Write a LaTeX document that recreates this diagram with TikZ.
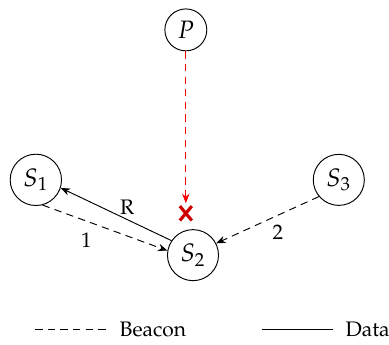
\documentclass[tikz,border=0pt]{standalone}
\usepackage[T1]{fontenc}
\usepackage{mathpazo}
\usetikzlibrary{arrows.meta}

\tikzset{
  station/.style={draw, circle, inner sep=3pt, font=\large},
  beacon/.style={->, dash pattern=on 3.5pt off 2.5pt},
  datalink/.style={->},
}

\begin{document}
\begin{tikzpicture}[>={Stealth[length=4.5pt,width=3.5pt]}, line width=.45pt]
    \useasboundingbox (0,0) rectangle (6.51,5.76);
    \node[station] (P)  at (3.11,5.26) {$P$};
    \node[station] (S1) at (0.60,2.75) {$S_1$};
    \node[station] (S2) at (3.23,1.49) {$S_2$};
    \node[station] (S3) at (5.67,2.75) {$S_3$};
    \coordinate (jam) at (3.11,2.36);
    \coordinate (X) at (3.11,2.19);
    % beacons
    \draw[beacon] (S1.-75) -- node[pos=.35, below=2pt] {1} (S2.170);
    \draw[beacon] (S3.220) -- node[pos=.4, below=1pt] {2} (S2.27);
    % data
    \draw[datalink] (S2.146) -- node[pos=.4, above=-1pt] {R} (S1.-18);
    % blocked
    \draw[beacon, red] (P) -- (jam);
    \draw[red!80!black, line width=1.5pt] ([shift={(-.10,.12)}]X) -- ++(.20,-.24)
      ([shift={(.10,.12)}]X) -- ++(-.20,-.24);
    % legend
    \draw[beacon, -] (0.59,0.25) -- (1.79,0.25) node[right=2.5pt] {Beacon};
    \draw (4.39,0.25) -- (5.57,0.25) node[right=2.5pt] {Data};
\end{tikzpicture}
\end{document}
